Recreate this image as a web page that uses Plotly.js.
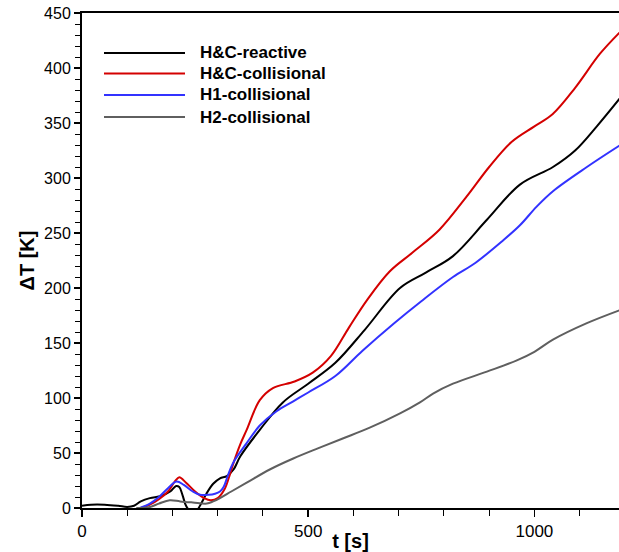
<!DOCTYPE html>
<html>
<head>
<meta charset="utf-8">
<script src="https://cdn.plot.ly/plotly-3.0.1.min.js"></script>
<style>html,body{margin:0;padding:0;background:#fff;}#chart{width:619px;height:552px;}</style>
</head>
<body>
<div id="chart"></div>
<script>
// ---- data ----
const seriesNames = ["H&C-reactive", "H&C-collisional", "H1-collisional", "H2-collisional"];
const seriesColors = ["#000000", "#d40000", "#3232ff", "#5f5f5f"];

const tReactive = [0,20,50,80,100,115,130,150,175,195,208,215,222,230,240,252,262,275,290,305,320,335,350,393,444,500,560,625,703,760,820,895,968,1041,1090,1138,1190];
const dTReactive = [2,3,3,2,1,2,6,9,11,15,20,19,12,2,-3,-3,3,13,22,27,29,35,47,71,96,113,132,162,200,214,229,262,294,310,325,347,373];

const tHCColl = [130,150,170,190,205,215,230,250,270,285,300,315,325,335,350,364,393,422,470,510,550,590,630,680,730,790,850,900,950,1000,1040,1090,1145,1190];
const dTHCColl = [0,3,8,15,24,28,23,15,9,7,9,17,28,41,58,71,98,109,115,123,138,164,189,215,232,253,283,310,333,347,358,382,413,433];

const tH1Coll = [128,150,170,190,209,225,245,261,280,294,305,313,322,334,364,393,430,467,500,560,620,690,750,820,870,930,968,1005,1041,1116,1190];
const dTH1Coll = [0,4,10,18,24,21,15,12,12,13,15,19,29,41,59,75,88,97,105,120,143,168,188,210,223,243,257,274,288,310,330];

const tH2Coll = [120,150,170,194,217,245,276,290,305,330,364,415,467,520,575,636,703,747,776,820,895,960,1000,1041,1116,1190];
const dTH2Coll = [0,1,4,7,6,5,4,6,9,15,23,35,45,54,63,73,86,96,104,113,124,134,142,153,168,180];

const xTickVals = [0, 500, 1000];
const yTickVals = [0,50,100,150,200,250,300,350,400,450];

// ---- chart ----
const FONT = '"Liberation Sans", Arial, Helvetica, sans-serif';
const xs = [tReactive, tHCColl, tH1Coll, tH2Coll];
const ys = [dTReactive, dTHCColl, dTH1Coll, dTH2Coll];

const traces = xs.map((x, i) => ({
  x: x, y: ys[i], type: 'scatter', mode: 'lines', name: seriesNames[i],
  line: {color: seriesColors[i], width: 2, shape: 'spline', smoothing: 1},
  showlegend: false
}));

// manual legend (long line samples as in reference)
const W = 537, H = 495, L = 82, T = 13;
const px = v => (v - L) / W;
const py = v => 1 - (v - T) / H;
const legendRows = [53, 73.5, 95, 117];
const shapes = [], annotations = [];
seriesNames.forEach((n, i) => {
  shapes.push({type: 'line', xref: 'paper', yref: 'paper', x0: px(104), x1: px(185), y0: py(legendRows[i]), y1: py(legendRows[i]),
    line: {color: seriesColors[i], width: 2}});
  annotations.push({xref: 'paper', yref: 'paper', x: px(198), y: py(legendRows[i]), xanchor: 'left', yanchor: 'middle',
    text: '<b>' + n.replace('&', '&amp;') + '</b>', showarrow: false, font: {family: FONT, size: 17, color: '#000'}});
});

const layout = {
  width: 619, height: 552,
  margin: {l: L, r: 0, t: T, b: 44, pad: 0},
  paper_bgcolor: '#fff', plot_bgcolor: '#fff',
  font: {family: FONT, color: '#000'},
  showlegend: false,
  xaxis: {
    range: [0, 1187], tickvals: xTickVals, ticktext: xTickVals.map(String),
    ticks: 'outside', ticklen: 7, tickwidth: 1.5, tickcolor: '#000',
    minor: {dtick: 100, ticks: 'outside', ticklen: 6, tickwidth: 1, tickcolor: '#000', showgrid: false},
    showline: true, linecolor: '#000', linewidth: 2, mirror: true,
    showgrid: false, zeroline: false,
    tickfont: {family: FONT, size: 17, color: '#000'},
    title: {text: '<b>t [s]</b>', font: {family: FONT, size: 20, color: '#000'}, standoff: 2},
    automargin: false
  },
  yaxis: {
    range: [0, 450], tickvals: yTickVals, ticktext: yTickVals.map(String),
    ticks: 'outside', ticklen: 6, tickwidth: 1.5, tickcolor: '#000',
    minor: {dtick: 10, ticks: 'outside', ticklen: 5, tickwidth: 1, tickcolor: '#000', showgrid: false},
    showline: true, linecolor: '#000', linewidth: 2, mirror: false,
    showgrid: false, zeroline: false,
    tickfont: {family: FONT, size: 16, color: '#000'},
    title: {text: '<b>ΔT [K]</b>', font: {family: FONT, size: 20, color: '#000'}, standoff: 4},
    automargin: false
  },
  shapes: shapes,
  annotations: annotations
};

Plotly.newPlot('chart', traces, layout, {displayModeBar: false, staticPlot: true});
</script>
</body>
</html>
